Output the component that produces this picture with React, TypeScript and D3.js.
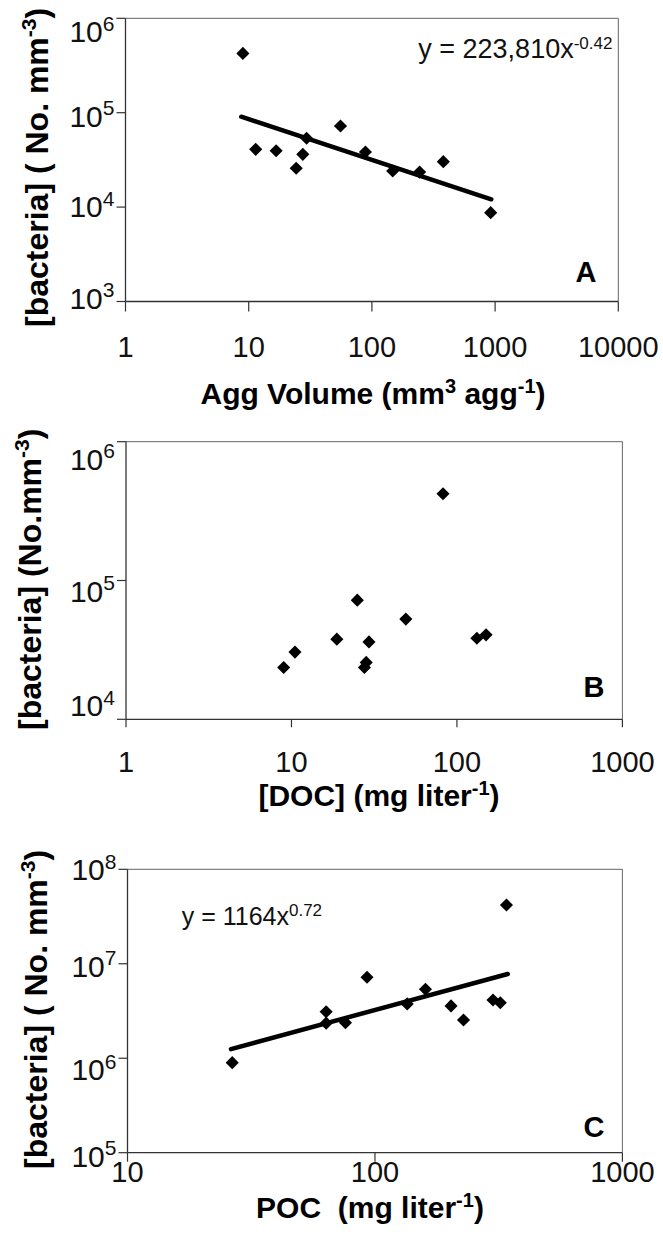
import React from 'react';
import * as d3 from 'd3';

// ---------- Panel A : aggregate volume ----------
const aggVolume = [8.97, 11.4, 16.7, 24.3, 27.5, 29.5, 55.6, 88.6, 147.5, 244, 380, 921];
const bacteriaA = [425000, 40900, 39500, 25800, 36200, 53600, 72300, 38400, 24100, 23500, 30300, 8730];
const trendAggVolume = [8.7, 931];
const trendBacteriaA = [90700, 12100];
const xTicksA = [1, 10, 100, 1000, 10000];
const xTickLabelsA = ['1', '10', '100', '1000', '10000'];
const yExpA = [6, 5, 4, 3];

// ---------- Panel B : DOC ----------
const docValues = [82.4, 25.0, 49.1, 18.8, 29.4, 10.5, 8.97, 28.3, 27.6, 132, 150];
const bacteriaB = [422000, 72200, 52700, 37800, 36100, 30500, 23600, 25700, 23600, 38400, 40600];
const xTicksB = [1, 10, 100, 1000];
const xTickLabelsB = ['1', '10', '100', '1000'];
const yExpB = [6, 5, 4];

// ---------- Panel C : POC ----------
const pocValues = [26.5, 63.5, 63.5, 76.0, 92.9, 135, 160, 203, 228, 300, 321, 340];
const bacteriaC = [898000, 3110000, 2350000, 2380000, 7200000, 3760000, 5370000, 3580000, 2540000, 4140000, 3870000, 41900000];
const trendPoc = [26.2, 344];
const trendBacteriaC = [1250000, 7800000];
const xTicksC = [10, 100, 1000];
const xTickLabelsC = ['10', '100', '1000'];
const yExpC = [8, 7, 6, 5];

const FONT = '"Liberation Sans", Arial, Helvetica, sans-serif';

type Seg = { t: string; sup?: boolean };

interface PanelCfg {
  id: string;
  xs: number[];
  ys: number[];
  trendX?: number[];
  trendY?: number[];
  xTicks: number[];
  xTickLabels: string[];
  yExp: number[];
  xDomain: [number, number];
  yDomain: [number, number];
  left: number;
  right: number;
  top: number;
  bottom: number;
  yLabelOffsets: number[];
  xLabelBaseline: number;
  xTitle: Seg[];
  xTitlePos: [number, number];
  yTitle: Seg[];
  yTitlePos: [number, number];
  labelPos: [number, number];
  eq?: Seg[];
  eqPos?: [number, number];
  eqSize?: number;
  xTickLen: number;
}

const yTitleFull: Seg[] = [{ t: '[bacteria] ( No. mm' }, { t: '-3', sup: true }, { t: ')' }];
const yTitleTight: Seg[] = [{ t: '[bacteria] (No.mm' }, { t: '-3', sup: true }, { t: ')' }];

const panels: PanelCfg[] = [
  {
    id: 'A', xs: aggVolume, ys: bacteriaA, trendX: trendAggVolume, trendY: trendBacteriaA,
    xTicks: xTicksA, xTickLabels: xTickLabelsA, yExp: yExpA,
    xDomain: [1, 10000], yDomain: [1e3, 1e6],
    left: 125.5, right: 618.3, top: 18.3, bottom: 301.5,
    yLabelOffsets: [24, 14, 10, 7], xLabelBaseline: 357,
    xTitle: [{ t: 'Agg Volume (mm' }, { t: '3', sup: true }, { t: ' agg' }, { t: '-1', sup: true }, { t: ')' }],
    xTitlePos: [373, 404],
    yTitle: yTitleFull, yTitlePos: [48, 327],
    labelPos: [586, 281.7],
    eq: [{ t: 'y = 223,810x' }, { t: '-0.42', sup: true }], eqPos: [418.3, 58.3], eqSize: 27,
    xTickLen: 10,
  },
  {
    id: 'B', xs: docValues, ys: bacteriaB,
    xTicks: xTicksB, xTickLabels: xTickLabelsB, yExp: yExpB,
    xDomain: [1, 1000], yDomain: [1e4, 1e6],
    left: 126, right: 622.4, top: 441.7, bottom: 719.3,
    yLabelOffsets: [28, 21, -3], xLabelBaseline: 771.7,
    xTitle: [{ t: '[DOC] (mg liter' }, { t: '-1', sup: true }, { t: ')' }],
    xTitlePos: [379, 806],
    yTitle: yTitleTight, yTitlePos: [41, 730],
    labelPos: [594, 697],
    xTickLen: 8,
  },
  {
    id: 'C', xs: pocValues, ys: bacteriaC, trendX: trendPoc, trendY: trendBacteriaC,
    xTicks: xTicksC, xTickLabels: xTickLabelsC, yExp: yExpC,
    xDomain: [10, 1000], yDomain: [1e5, 1e8],
    left: 127.5, right: 622.4, top: 869.3, bottom: 1152.7,
    yLabelOffsets: [11, 13, 22, 14], xLabelBaseline: 1181.7,
    xTitle: [{ t: 'POC  (mg liter' }, { t: '-1', sup: true }, { t: ')' }],
    xTitlePos: [370, 1218],
    yTitle: yTitleFull, yTitlePos: [47, 1169],
    labelPos: [594, 1137],
    eq: [{ t: 'y = 1164x' }, { t: '0.72', sup: true }], eqPos: [181.7, 925], eqSize: 25,
    xTickLen: 9,
  },
];

function segs(list: Seg[], size: number, supSize: number, rise: number) {
  const out: React.ReactNode[] = [];
  let raised = false;
  list.forEach((s, i) => {
    if (s.sup) {
      out.push(<tspan key={i} dy={raised ? 0 : -rise} fontSize={supSize}>{s.t}</tspan>);
      raised = true;
    } else {
      out.push(<tspan key={i} dy={raised ? rise : 0} fontSize={size}>{s.t}</tspan>);
      raised = false;
    }
  });
  return out;
}

function Panel({ c }: { c: PanelCfg }) {
  const x = d3.scaleLog().domain(c.xDomain).range([c.left, c.right]);
  const y = d3.scaleLog().domain(c.yDomain).range([c.bottom, c.top]);
  const diamond = d3.symbol().type(d3.symbolSquare).size(86)() as string;
  const line = d3.line<number>().x((_, i) => x(c.trendX![i])).y((_, i) => y(c.trendY![i]));
  const pts = c.xs.map((v, i) => [x(v), y(c.ys[i])]);
  return (
    <g>
      {/* frame */}
      <line x1={c.left} x2={c.right} y1={c.top} y2={c.top} stroke="#666" strokeWidth={1} />
      <line x1={c.right} x2={c.right} y1={c.top} y2={c.bottom} stroke="#666" strokeWidth={1} />
      <line x1={c.left} x2={c.left} y1={c.top} y2={c.bottom} stroke="#333" strokeWidth={1.3} />
      <line x1={c.left} x2={c.right} y1={c.bottom} y2={c.bottom} stroke="#333" strokeWidth={1.3} />
      {/* y ticks */}
      {c.yExp.map((e, i) => {
        const yy = y(Math.pow(10, e));
        return (
          <g key={'y' + e}>
            <line x1={c.left - 9} x2={c.left} y1={yy} y2={yy} stroke="#333" strokeWidth={1.2} />
            <text x={c.left - 11} y={yy + c.yLabelOffsets[i]} textAnchor="end" fontSize={30} fill="#111">
              10<tspan dy={-11.5} fontSize={21}>{String(e)}</tspan>
            </text>
          </g>
        );
      })}
      {/* x ticks */}
      {c.xTicks.map((v, i) => {
        const xx = x(v);
        return (
          <g key={'x' + v}>
            <line x1={xx} x2={xx} y1={c.bottom} y2={c.bottom + c.xTickLen} stroke="#333" strokeWidth={1.2} />
            <text x={xx} y={c.xLabelBaseline} textAnchor="middle" fontSize={29} fill="#111">
              {c.xTickLabels[i]}
            </text>
          </g>
        );
      })}
      {/* trend line */}
      {c.trendX && c.trendY && (
        <path d={line(c.trendX) as string} fill="none" stroke="#000" strokeWidth={4.5} strokeLinecap="round" />
      )}
      {/* points */}
      {pts.map((p, i) => (
        <path key={i} d={diamond} transform={`translate(${p[0]},${p[1]}) rotate(45)`} fill="#000" />
      ))}
      {/* equation */}
      {c.eq && c.eqPos && (
        <text x={c.eqPos[0]} y={c.eqPos[1]} fontSize={c.eqSize} fill="#111" style={{ whiteSpace: 'pre' }}>
          {segs(c.eq, c.eqSize!, 17, 9.5)}
        </text>
      )}
      {/* panel label */}
      <text x={c.labelPos[0]} y={c.labelPos[1]} textAnchor="middle" fontSize={29} fontWeight="bold" fill="#000">
        {c.id}
      </text>
      {/* x title */}
      <text x={c.xTitlePos[0]} y={c.xTitlePos[1]} textAnchor="middle" fontSize={30} fontWeight="bold" fill="#000" style={{ whiteSpace: 'pre' }}>
        {segs(c.xTitle, 30, 20, 11)}
      </text>
      {/* y title */}
      <text transform={`translate(${c.yTitlePos[0]},${c.yTitlePos[1]}) rotate(-90)`} fontSize={32} fontWeight="bold" fill="#000" style={{ whiteSpace: 'pre' }}>
        {segs(c.yTitle, 32, 21, 12)}
      </text>
    </g>
  );
}

export default function App() {
  return (
    <svg width={663} height={1260} style={{ position: 'absolute', left: 0, top: 0, fontFamily: FONT, background: '#fff' }}>
      <rect x={0} y={0} width={663} height={1260} fill="#fff" />
      {panels.map(p => <Panel key={p.id} c={p} />)}
    </svg>
  );
}
